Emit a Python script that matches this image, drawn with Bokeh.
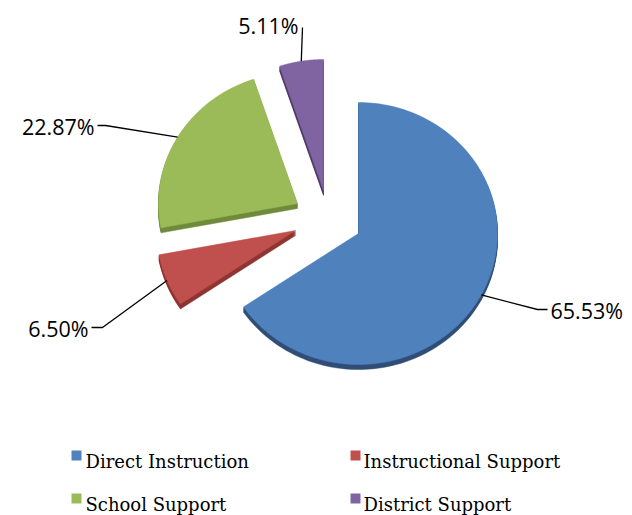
import numpy as np
from bokeh.plotting import figure
from bokeh.models import Range1d
from bokeh.core.properties import value
from bokeh.embed import file_html
from bokeh.resources import INLINE

# ---- data ----
categories = ["Direct Instruction", "Instructional Support", "School Support", "District Support"]
shares = [65.53, 6.50, 22.87, 5.11]
labels = ["65.53%", "6.50%", "22.87%", "5.11%"]

# ---- styles / layout ----
colors = ["#4F81BD", "#C0504D", "#9BBB59", "#8064A2"]
side_colors = ["#2F4D75", "#8E3532", "#6E8A3A", "#4F3B6B"]
CX, CY, RX, RY = 358, 233, 139, 131          # pie centre and radii (pixels)
explode = [(0, 0), (-63, -3), (-61, -30), (-35, -43)]
DEPTH = 5
# leader-line elbows and label anchors (pixels)
leader_pts = [[(537, 309), (547, 309)], [(102, 327), (91, 327)],
              [(105, 125), (97, 125)], [(302, 27)]]
label_pos = [(550, 310, "left"), (88, 328, "right"), (94, 126, "right"), (298, 25, "right")]
legend_pos = [(76, 85, 461), (355, 363, 461), (76, 85, 504), (355, 363, 504)]

W, H = 632, 515
p = figure(width=W, height=H, x_range=Range1d(0, W), y_range=Range1d(H, 0),
           output_backend="svg", toolbar_location=None, min_border=0,
           x_axis_location=None, y_axis_location=None)
p.grid.visible = False
p.outline_line_color = None

total = float(sum(shares))
cum = np.concatenate([[0.0], np.cumsum(shares)]) / total * 2 * np.pi

tops_x, tops_y, side_x, side_y, side_c = [], [], [], [], []
mids = []
for i, cat in enumerate(categories):
    a0, a1 = cum[i], cum[i + 1]
    t = np.linspace(a0, a1, 160)
    ox, oy = CX + explode[i][0], CY + explode[i][1]
    xs = np.concatenate([[ox], ox + RX * np.sin(t)])
    ys = np.concatenate([[oy], oy - RY * np.cos(t)])
    tops_x.append(list(xs)); tops_y.append(list(ys))
    for d in range(1, DEPTH + 1):
        side_x.append(list(xs)); side_y.append(list(ys + d)); side_c.append(side_colors[i])
    am = (a0 + a1) / 2
    mids.append((ox + RX * np.sin(am), oy - RY * np.cos(am)))

p.patches(side_x, side_y, fill_color=side_c, line_color=side_c, line_width=0.5)
p.patches(tops_x, tops_y, fill_color=colors, line_color=colors, line_width=0.5)

# leader lines
for i in range(len(categories)):
    px = [mids[i][0]] + [q[0] for q in leader_pts[i]]
    py = [mids[i][1]] + [q[1] for q in leader_pts[i]]
    p.line(px, py, line_color="black", line_width=1.3)

for i, lab in enumerate(labels):
    x, y, al = label_pos[i]
    p.text([x], [y], text=[lab], text_font=value("Open Sans"), text_font_size="21.5px",
           text_align=al, text_baseline="alphabetic", text_color="black")

# legend
for i, cat in enumerate(categories):
    sx, tx, by = legend_pos[i]
    p.rect([sx], [by - 6], width=10, height=10, fill_color=colors[i], line_color=None)
    p.text([tx], [by], text=[cat], text_font=value("DejaVu Serif"), text_font_size="18px",
           text_align="left", text_baseline="alphabetic", text_color="black")

open("out.html", "w").write(file_html(p, INLINE))
